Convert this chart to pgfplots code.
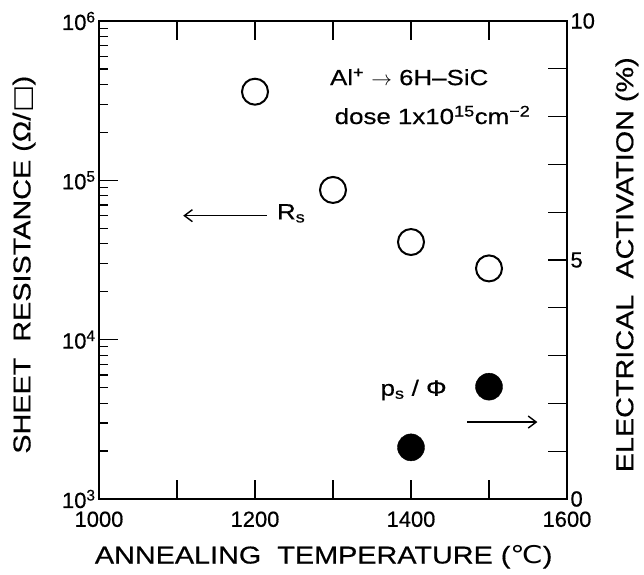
\documentclass[border=0pt]{standalone}
\usepackage{fontspec}
\setmainfont{Liberation Sans}[FakeBold=0.5]
\newfontfamily\wide[FakeStretch=1.18,FakeBold=0.5]{Liberation Sans}
\newfontfamily\widedv[FakeStretch=1.18]{DejaVu Sans}
\usepackage{pgfplots}
\pgfplotsset{compat=1.18}
\usetikzlibrary{calc,arrows.meta}

\begin{document}
\begin{tikzpicture}
\pgfplotsset{
  every axis/.append style={
    scale only axis, width=468bp, height=478bp,
    xmin=1000, xmax=1600,
    tick align=inside,
    major tick length=19bp, minor tick length=9bp,
    tick style={black, line width=1.1bp},
    axis line style={line width=1.8bp},
    tick label style={font=\fontsize{22}{24}\selectfont},
    label style={font=\wide\fontsize{24.5}{28}\selectfont},
    /pgf/number format/assume math mode=true,
  },
}
% left axis: sheet resistance (log)
\begin{axis}[name=main,
  ymode=log, ymin=1e3, ymax=1e6,
  xtick={1000,1100,1200,1300,1400,1500,1600},
  xticklabels={1000,,1200,,1400,,1600},
  xticklabel style={yshift=-9bp},
  ytick={1e3,1e4,1e5,1e6},
  yticklabels={10\textsuperscript{3},10\textsuperscript{4},10\textsuperscript{5},10\textsuperscript{6}},
  minor ytick={2e3,3e3,4e3,5e3,6e3,7e3,8e3,9e3,2e4,3e4,4e4,5e4,6e4,7e4,8e4,9e4,2e5,3e5,4e5,5e5,6e5,7e5,8e5,9e5},
  ytick pos=left,
  xlabel={ANNEALING\ \ TEMPERATURE ({\widedv ℃})},
  xlabel style={at={(axis description cs:0.48,0)}, anchor=center, yshift=-58bp},
  ylabel={SHEET\ \ RESISTANCE (Ω/{\widedv □})},
  ylabel style={at={(axis description cs:-0.16,0.49)}, anchor=center},
]
\addplot[only marks, mark=o, mark size=13bp, line width=2bp, black]
  coordinates {(1200,3.6e5) (1300,8.7e4) (1400,4.1e4) (1500,2.8e4)};
\node[anchor=west, font=\wide\fontsize{22}{24}\selectfont, inner sep=0pt] at (axis cs:1296,4.45e5) {Al\textsuperscript{+} $\rightarrow$ 6H–SiC};
\node[anchor=west, font=\wide\fontsize{22}{24}\selectfont, inner sep=0pt] at (axis cs:1302,2.57e5) {dose 1x10\textsuperscript{15}cm\textsuperscript{−2}};
\draw[-{Straight Barb[length=8bp,width=12bp]}, line width=1.4bp] (axis cs:1215,6e4) -- (axis cs:1108,6e4);
\node[anchor=west, font=\wide\fontsize{22}{24}\selectfont, inner sep=0pt] at (axis cs:1228,6.2e4) {R\textsubscript{s}};
\end{axis}
% right axis: electrical activation
\begin{axis}[
  axis x line=none, axis y line*=right,
  ymin=0, ymax=10,
  ytick={0,1,2,3,4,5,6,7,8,9,10},
  yticklabels={0,,,,,5,,,,,10},
  ylabel={ELECTRICAL\ \ ACTIVATION (\%)},
  ylabel style={at={(axis description cs:1.128,0.49)}, anchor=center},
]
\addplot[only marks, mark=*, mark size=13.5bp, black]
  coordinates {(1400,1.08) (1500,2.35)};
\node[anchor=east, font=\wide\fontsize{22}{24}\selectfont, inner sep=0pt] at (axis cs:1446,2.28) {p\textsubscript{s} / Φ};
\draw[-{Straight Barb[length=8bp,width=12bp]}, line width=1.4bp] (axis cs:1472,1.61) -- (axis cs:1562,1.61);
\end{axis}
\pgfresetboundingbox
\path[use as bounding box] ($(main.south west)+(-99bp,-76bp)$) rectangle ($(main.north east)+(77bp,21bp)$);
\end{tikzpicture}
\end{document}
